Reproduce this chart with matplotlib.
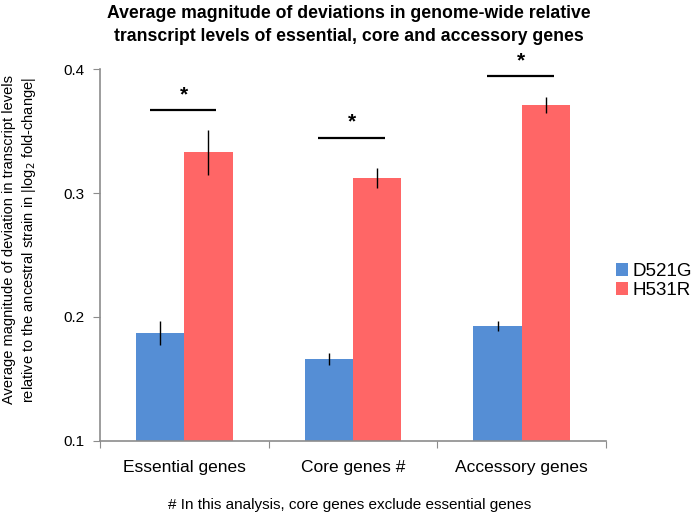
import matplotlib
matplotlib.use("Agg")
import matplotlib.pyplot as plt
import numpy as np

plt.rcParams['font.family'] = ['Liberation Sans', 'DejaVu Sans']

categories = ["Essential genes", "Core genes #", "Accessory genes"]
series_names = ["D521G", "H531R"]
d521g = [0.187, 0.166, 0.1925]
d521g_err = [0.010, 0.0045, 0.0038]
h531r = [0.333, 0.312, 0.371]
h531r_err = [0.018, 0.008, 0.0063]
sig_levels = [0.367, 0.3447, 0.3944]
yticks = [0.1, 0.2, 0.3, 0.4]

blue = "#558ED5"
red = "#FF6666"
axis_gray = "#8C8C8C"

fig = plt.figure(figsize=(7.0, 5.22), dpi=100)
ax = fig.add_axes([100/700, 1-440.7/522, 506/700, (440.7-69.3)/522])

x = np.arange(len(categories))
w = 0.286
ax.bar(x - w/2, d521g, w, color=blue, label=series_names[0], zorder=2)
ax.bar(x + w/2, h531r, w, color=red, label=series_names[1], zorder=2)
ax.errorbar(x - w/2, d521g, yerr=d521g_err, fmt='none', ecolor='black', elinewidth=1, capsize=0, zorder=3)
ax.errorbar(x + w/2, h531r, yerr=h531r_err, fmt='none', ecolor='black', elinewidth=1, capsize=0, zorder=3)

for xi, lv in zip(x, sig_levels):
    ax.plot([xi - 0.205, xi + 0.19], [lv, lv], color='black', lw=1.6, solid_capstyle='butt')
    ax.text(xi - 0.005, lv + 0.0125, "*", ha='center', va='center', fontsize=15, fontweight='bold')

ax.set_ylim(0.1, 0.4)
ax.set_xlim(-0.5, 2.5)
ax.set_yticks(yticks)
ax.set_yticklabels([f"{t:.1f}" for t in yticks], fontsize=11)
ax.set_xticks([-0.5, 0.5, 1.5, 2.5])
ax.set_xticklabels([])
ax.set_xticks(x, minor=True)
ax.set_xticklabels(categories, minor=True, fontsize=12.5)
ax.tick_params(axis='x', which='minor', length=0, pad=14)
ax.tick_params(axis='x', which='major', length=5, direction='out', color=axis_gray)
ax.tick_params(axis='y', length=5, direction='out', color=axis_gray, pad=6)
for s in ['top', 'right']:
    ax.spines[s].set_visible(False)
for s in ['left', 'bottom']:
    ax.spines[s].set_color(axis_gray)
    ax.spines[s].set_linewidth(1.2)

fig.text(349/700, 1-5/522, "Average magnitude of deviations in genome-wide relative\ntranscript levels of essential, core and accessory genes",
         ha='center', va='top', fontsize=12.7, fontweight='bold', linespacing=1.45)

fig.text(20/700, 1-240/522,
         "Average magnitude of deviation in transcript levels\nrelative to the ancestral strain in |log$_2$ fold-change|",
         rotation=90, ha='center', va='center', fontsize=10.5, linespacing=1.25)

fig.text(350/700, 1-505/522, "# In this analysis, core genes exclude essential genes",
         ha='center', va='center', fontsize=11)

leg = fig.legend(loc='center left', bbox_to_anchor=(603/700, 1-281/522), frameon=False,
                 fontsize=13.5, handlelength=0.65, handleheight=0.65, handletextpad=0.2,
                 labelspacing=0.12, borderaxespad=0.3)

fig.savefig("out.png", dpi=100)
